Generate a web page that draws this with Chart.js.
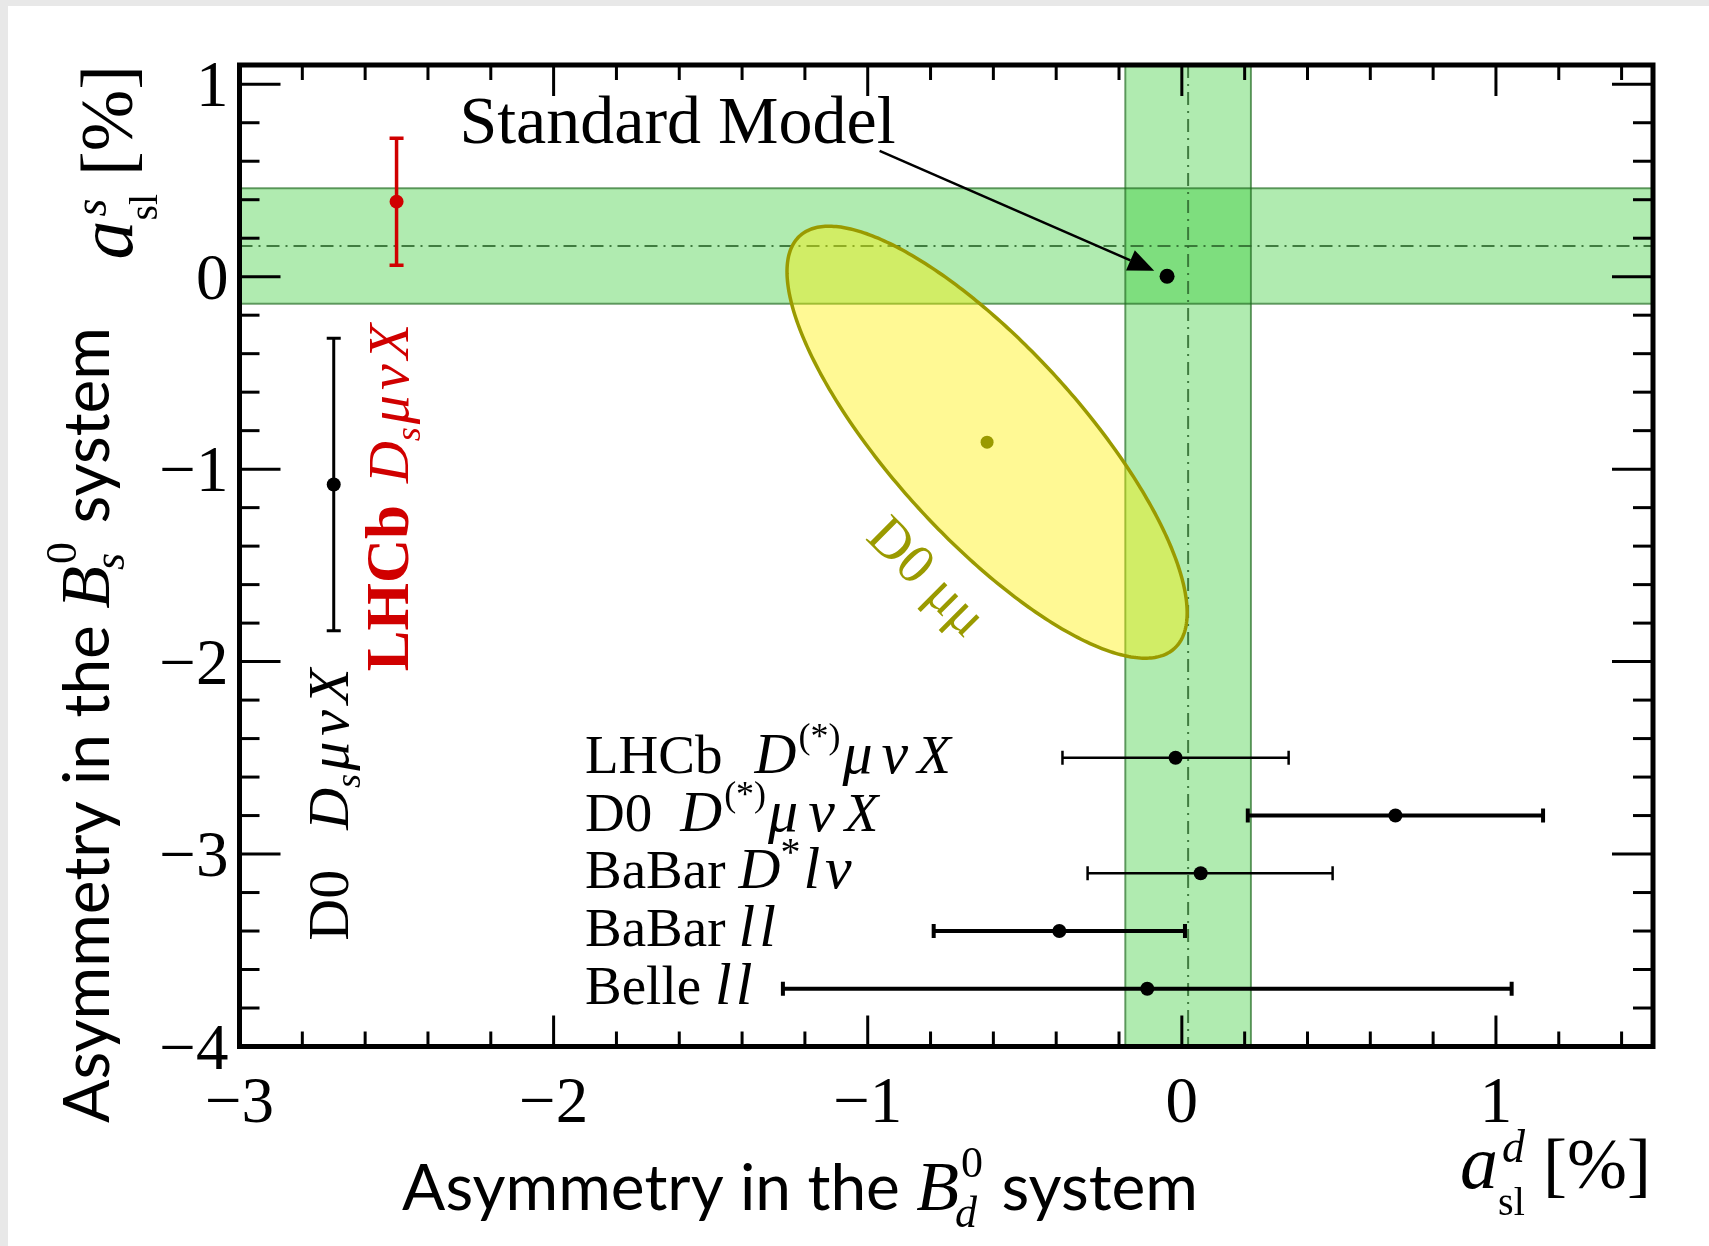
<!DOCTYPE html>
<html>
<head>
<meta charset="utf-8">
<title>Semileptonic asymmetries in the B0d and B0s systems</title>
<script src="https://cdn.jsdelivr.net/npm/chart.js@4.4.1/dist/chart.umd.min.js"></script>
<style>
  html, body { margin: 0; padding: 0; background: #fff; overflow: hidden; }
  canvas { display: block; }
</style>
</head>
<body>
<canvas id="asl" width="1709" height="1246"></canvas>
<script>
// ---------- values ----------
const xTickValues = [-3, -2, -1, 0, 1];
const yTickValues = [-4, -3, -2, -1, 0, 1];

// a_sl^d measurements, one row each (values in %)
const bdNames   = ['LHCb D(*)μνX', 'D0 D(*)μνX', 'BaBar D*lν', 'BaBar ll', 'Belle ll'];
const bdRowY    = [-2.5, -2.8, -3.1, -3.4, -3.7];
const bdValue   = [-0.02, 0.68, 0.06, -0.39, -0.11];
const bdErrDown = [0.36, 0.47, 0.36, 0.40, 1.16];
const bdErrUp   = [0.36, 0.47, 0.42, 0.40, 1.16];

// a_sl^s measurements, one column each (values in %)
const bsNames   = ['D0 DsμνX', 'LHCb DsμνX'];
const bsColumnX = [-2.7, -2.5];
const bsValue   = [-1.08, 0.39];
const bsErr     = [0.76, 0.33];

// averages: [central value, half width]
const avgBd = [0.02, 0.20];
const avgBs = [0.16, 0.30];

// D0 dimuon result: centre, uncertainties, correlation
const dimuonCentre = [-0.62, -0.86];
const dimuonSigma  = [0.42, 0.74];
const dimuonRho    = -0.79;
const dimuonDeltaChi2 = 2.30;   // 68% CL contour in two dimensions

// Standard Model expectation
const smPoint = [-0.047, 0.002];

// ---------- styles ----------
const SERIF = '"Liberation Serif", "Times New Roman", serif';
const SANS  = 'Lato, "Open Sans", sans-serif';
const rm   = s => `${s}px ${SERIF}`;
const it   = s => `italic ${s}px ${SERIF}`;
const bf   = s => `bold ${s}px ${SERIF}`;
const sans = s => `${s}px ${SANS}`;

const BAND_FILL    = 'rgba(40,200,40,0.37)';
const BAND_EDGE    = 'rgba(30,105,30,0.65)';
const CENTRE_LINE  = 'rgba(45,105,45,0.85)';
const ELLIPSE_FILL = 'rgba(255,240,0,0.42)';
const OLIVE        = '#9a9a00';
const RED          = '#d00000';

const bdBarWidth = [2.5, 4, 2.5, 4, 4];
const bsColor    = ['#000000', RED];
const bsBarWidth = [3, 3.5];

const LBL = 55, GR = 60;
const bdLabelRich = [
  [{t:'LHCb', f:rm(LBL), gap:32}, {t:'D', f:it(58), gap:2}, {t:'(*)', f:rm(36), dy:-25, gap:2},
   {t:'μ', f:it(GR), gap:9}, {t:'ν', f:it(GR), gap:9}, {t:'X', f:it(LBL)}],
  [{t:'D0', f:rm(LBL), gap:28}, {t:'D', f:it(58), gap:2}, {t:'(*)', f:rm(36), dy:-25, gap:2},
   {t:'μ', f:it(GR), gap:10}, {t:'ν', f:it(GR), gap:10}, {t:'X', f:it(LBL)}],
  [{t:'BaBar', f:rm(LBL), gap:13}, {t:'D', f:it(58)}, {t:'*', f:rm(40), dy:-23, gap:3},
   {t:'l', f:it(GR), gap:5}, {t:'ν', f:it(GR)}],
  [{t:'BaBar', f:rm(LBL), gap:13}, {t:'l', f:it(GR), gap:4}, {t:'l', f:it(GR)}],
  [{t:'Belle', f:rm(LBL), gap:14}, {t:'l', f:it(GR), gap:4}, {t:'l', f:it(GR)}]
];
const bdLabelX = -1.9;

const VL = 58;
const bsLabelRich = [
  [{t:'D0', f:rm(VL), gap:40}, {t:'D', f:it(VL)}, {t:'s', f:it(36), dy:12, gap:3},
   {t:'μ', f:it(VL), gap:6}, {t:'ν', f:it(VL), gap:6}, {t:'X', f:it(VL)}],
  [{t:'LHCb', f:bf(61), gap:22}, {t:'D', f:it(VL)}, {t:'s', f:it(36), dy:12, gap:3},
   {t:'μ', f:it(VL), gap:5}, {t:'ν', f:it(VL), gap:5}, {t:'X', f:it(VL)}]
];
const bsLabelAnchor = [[-2.655, -3.45], [-2.465, -2.05]];

// ---------- text helpers ----------
function segWidth(ctx, s) {
  if (s.stack) {
    return Math.max(...s.stack.map(p => { ctx.font = p.f; return ctx.measureText(p.t).width + (p.dx || 0); })) + (s.gap || 0);
  }
  ctx.font = s.f;
  return ctx.measureText(s.t).width + (s.gap || 0);
}
function drawRich(ctx, segs, x, y, opt = {}) {
  ctx.save();
  ctx.translate(x, y);
  ctx.rotate(opt.angle || 0);
  ctx.fillStyle = opt.color || '#000';
  ctx.textBaseline = 'alphabetic';
  ctx.textAlign = 'left';
  const total = segs.reduce((a, s) => a + segWidth(ctx, s), 0);
  const align = opt.align || 'left';
  let cx = align === 'left' ? 0 : align === 'center' ? -total / 2 : -total;
  for (const s of segs) {
    const w = segWidth(ctx, s);
    if (s.stack) {
      s.stack.forEach(p => { ctx.font = p.f; ctx.fillText(p.t, cx + (p.dx || 0), p.dy || 0); });
    } else {
      ctx.font = s.f;
      ctx.fillText(s.t, cx, s.dy || 0);
    }
    cx += w;
  }
  ctx.restore();
  return total;
}
function seg(ctx, x1, y1, x2, y2) {
  ctx.beginPath(); ctx.moveTo(x1, y1); ctx.lineTo(x2, y2); ctx.stroke();
}
const fmt = v => (v < 0 ? '\u2212' + Math.abs(v) : String(v));

// ---------- drawing ----------
const overlay = {
  id: 'overlay',
  beforeDraw(chart) {
    const { ctx, width, height } = chart;
    ctx.save();
    ctx.fillStyle = '#e8e8e8';
    ctx.fillRect(0, 0, width, height);
    ctx.fillStyle = '#ffffff';
    ctx.fillRect(8, 6, width - 8, height - 6);
    ctx.restore();
  },
  beforeDatasetsDraw(chart) {
    const { ctx, chartArea: ca } = chart;
    const xs = chart.scales.x, ys = chart.scales.y;
    ctx.save();
    ctx.beginPath();
    ctx.rect(ca.left, ca.top, ca.right - ca.left, ca.bottom - ca.top);
    ctx.clip();

    // average bands
    const hy1 = ys.getPixelForValue(avgBs[0] + avgBs[1]);
    const hy2 = ys.getPixelForValue(avgBs[0] - avgBs[1]);
    const vx1 = xs.getPixelForValue(avgBd[0] - avgBd[1]);
    const vx2 = xs.getPixelForValue(avgBd[0] + avgBd[1]);
    ctx.fillStyle = BAND_FILL;
    ctx.fillRect(ca.left, hy1, ca.right - ca.left, hy2 - hy1);
    ctx.fillRect(vx1, ca.top, vx2 - vx1, ca.bottom - ca.top);
    ctx.strokeStyle = BAND_EDGE;
    ctx.lineWidth = 2;
    seg(ctx, ca.left, hy1, ca.right, hy1);
    seg(ctx, ca.left, hy2, ca.right, hy2);
    seg(ctx, vx1, ca.top, vx1, ca.bottom);
    seg(ctx, vx2, ca.top, vx2, ca.bottom);

    // central values, dash-dotted
    ctx.setLineDash([13, 6, 2, 6]);
    ctx.strokeStyle = CENTRE_LINE;
    ctx.lineWidth = 2;
    const hy = ys.getPixelForValue(avgBs[0]);
    const vx = xs.getPixelForValue(avgBd[0]);
    seg(ctx, ca.left, hy, ca.right, hy);
    seg(ctx, vx, ca.top, vx, ca.bottom);
    ctx.setLineDash([]);

    // D0 dimuon contour
    const k = Math.sqrt(dimuonDeltaChi2);
    const sr = Math.sqrt(1 - dimuonRho * dimuonRho);
    ctx.beginPath();
    for (let i = 0; i <= 360; i++) {
      const t = i / 360 * 2 * Math.PI;
      const ex = dimuonCentre[0] + k * dimuonSigma[0] * Math.cos(t);
      const ey = dimuonCentre[1] + k * dimuonSigma[1] * (dimuonRho * Math.cos(t) + sr * Math.sin(t));
      const px = xs.getPixelForValue(ex), py = ys.getPixelForValue(ey);
      if (i === 0) ctx.moveTo(px, py); else ctx.lineTo(px, py);
    }
    ctx.closePath();
    ctx.fillStyle = ELLIPSE_FILL;
    ctx.fill();
    ctx.strokeStyle = OLIVE;
    ctx.lineWidth = 3.5;
    ctx.stroke();

    // horizontal error bars (a_sl^d)
    ctx.strokeStyle = '#000';
    bdValue.forEach((v, i) => {
      const y = ys.getPixelForValue(bdRowY[i]);
      const x1 = xs.getPixelForValue(v - bdErrDown[i]);
      const x2 = xs.getPixelForValue(v + bdErrUp[i]);
      ctx.lineWidth = bdBarWidth[i];
      seg(ctx, x1, y, x2, y);
      seg(ctx, x1, y - 7, x1, y + 7);
      seg(ctx, x2, y - 7, x2, y + 7);
    });

    // vertical error bars (a_sl^s)
    bsValue.forEach((v, i) => {
      const x = xs.getPixelForValue(bsColumnX[i]);
      const y1 = ys.getPixelForValue(v + bsErr[i]);
      const y2 = ys.getPixelForValue(v - bsErr[i]);
      ctx.strokeStyle = bsColor[i];
      ctx.lineWidth = bsBarWidth[i];
      seg(ctx, x, y1, x, y2);
      seg(ctx, x - 7, y1, x + 7, y1);
      seg(ctx, x - 7, y2, x + 7, y2);
    });
    ctx.restore();
  },
  afterDatasetsDraw(chart) {
    const { ctx, chartArea: ca } = chart;
    const xs = chart.scales.x, ys = chart.scales.y;
    ctx.save();

    // Standard Model label and arrow
    const smTextX = xs.getPixelForValue(-2.30), smTextY = ys.getPixelForValue(0.695);
    const smW = drawRich(ctx, [{t:'Standard Model', f:rm(68)}], smTextX, smTextY);
    const ax0 = smTextX + smW - 16, ay0 = smTextY + 8;
    const spx = xs.getPixelForValue(smPoint[0]), spy = ys.getPixelForValue(smPoint[1]);
    const dx = spx - ax0, dy = spy - ay0, len = Math.hypot(dx, dy);
    const ux = dx / len, uy = dy / len;
    const tipX = spx - 14 * ux, tipY = spy - 14 * uy;
    const baseX = tipX - 26 * ux, baseY = tipY - 26 * uy;
    ctx.strokeStyle = '#000';
    ctx.lineWidth = 2.5;
    seg(ctx, ax0, ay0, baseX, baseY);
    ctx.fillStyle = '#000';
    ctx.beginPath();
    ctx.moveTo(tipX, tipY);
    ctx.lineTo(baseX - 11 * uy, baseY + 11 * ux);
    ctx.lineTo(baseX + 11 * uy, baseY - 11 * ux);
    ctx.closePath();
    ctx.fill();

    // dimuon label
    drawRich(ctx, [{t:'D0 μμ', f:rm(56)}], xs.getPixelForValue(-0.85), ys.getPixelForValue(-1.55) + 14,
             { angle: 45 * Math.PI / 180, align: 'center', color: OLIVE });

    // a_sl^d row labels
    bdLabelRich.forEach((segs, i) => {
      drawRich(ctx, segs, xs.getPixelForValue(bdLabelX), ys.getPixelForValue(bdRowY[i]) + 15);
    });

    // a_sl^s column labels, rotated
    bsLabelRich.forEach((segs, i) => {
      drawRich(ctx, segs, xs.getPixelForValue(bsLabelAnchor[i][0]), ys.getPixelForValue(bsLabelAnchor[i][1]),
               { angle: -Math.PI / 2, color: bsColor[i] });
    });

    // frame
    ctx.strokeStyle = '#000';
    ctx.lineWidth = 5;
    ctx.strokeRect(ca.left, ca.top, ca.right - ca.left, ca.bottom - ca.top);

    // ticks on all four sides
    ctx.lineWidth = 3;
    const minorX = 0.2, minorY = 0.2;
    for (let i = 0; ; i++) {
      const v = xs.min + i * minorX;
      if (v > xs.max + 1e-9) break;
      const major = Math.abs(v - Math.round(v)) < 1e-6;
      const px = xs.getPixelForValue(v);
      const l = major ? 31 : 15;
      seg(ctx, px, ca.bottom, px, ca.bottom - l);
      seg(ctx, px, ca.top, px, ca.top + l);
    }
    for (let i = 0; ; i++) {
      const v = ys.min + i * minorY;
      if (v > ys.max + 1e-9) break;
      const major = Math.abs(v - Math.round(v)) < 1e-6;
      const py = ys.getPixelForValue(v);
      const l = major ? 41 : 20;
      seg(ctx, ca.left, py, ca.left + l, py);
      seg(ctx, ca.right, py, ca.right - l, py);
    }

    // tick labels
    ctx.fillStyle = '#000';
    ctx.font = rm(65);
    ctx.textBaseline = 'alphabetic';
    ctx.textAlign = 'center';
    xTickValues.forEach(v => ctx.fillText(fmt(v), xs.getPixelForValue(v), ca.bottom + 75));
    ctx.textAlign = 'right';
    yTickValues.forEach(v => ctx.fillText(fmt(v), ca.left - 11, ys.getPixelForValue(v) + 22));

    // axis titles
    drawRich(ctx, [
      {t:'Asymmetry in the ', f:sans(64)},
      {t:'B', f:it(70)},
      {stack:[{t:'0', f:rm(44), dy:-33, dx:2}, {t:'d', f:it(44), dy:17, dx:-4}], gap:2},
      {t:' system', f:sans(64)}
    ], 800, 1210, { align: 'center' });
    drawRich(ctx, [
      {t:'Asymmetry in the ', f:sans(64)},
      {t:'B', f:it(70)},
      {stack:[{t:'0', f:rm(44), dy:-33, dx:2}, {t:'s', f:it(44), dy:15, dx:-4}], gap:2},
      {t:' system', f:sans(64)}
    ], 109, 725, { align: 'center', angle: -Math.PI / 2 });

    // variable names with units
    drawRich(ctx, [
      {t:'a', f:it(76)},
      {stack:[{t:'d', f:it(46), dy:-26, dx:4}, {t:'sl', f:rm(40), dy:27}], gap:18},
      {t:'[%]', f:rm(72)}
    ], ca.right - 2, 1188, { align: 'right' });
    drawRich(ctx, [
      {t:'a', f:it(78)},
      {stack:[{t:'s', f:it(46), dy:-26, dx:4}, {t:'sl', f:rm(40), dy:25}], gap:18},
      {t:'[%]', f:rm(74)}
    ], 132, ca.top, { align: 'right', angle: -Math.PI / 2 });

    ctx.restore();
  }
};

new Chart(document.getElementById('asl'), {
  type: 'scatter',
  data: {
    datasets: [
      { label: 'a_sl^d measurements', data: bdValue.map((v, i) => ({ x: v, y: bdRowY[i] })),
        pointRadius: 7, pointBackgroundColor: '#000', pointBorderWidth: 0 },
      { label: 'a_sl^s measurements', data: bsValue.map((v, i) => ({ x: bsColumnX[i], y: v })),
        pointRadius: 7, pointBackgroundColor: bsColor, pointBorderWidth: 0 },
      { label: 'D0 μμ', data: [{ x: dimuonCentre[0], y: dimuonCentre[1] }],
        pointRadius: 6.5, pointBackgroundColor: OLIVE, pointBorderWidth: 0 },
      { label: 'Standard Model', data: [{ x: smPoint[0], y: smPoint[1] }],
        pointRadius: 7.5, pointBackgroundColor: '#000', pointBorderWidth: 0 }
    ]
  },
  options: {
    responsive: false,
    animation: false,
    devicePixelRatio: 1,
    events: [],
    layout: { padding: { left: 239.5, top: 65, right: 56, bottom: 199.5 } },
    scales: {
      x: { type: 'linear', min: -3, max: 1.5, display: false },
      y: { type: 'linear', min: -4, max: 1.1, display: false }
    },
    plugins: { legend: { display: false }, tooltip: { enabled: false } }
  },
  plugins: [overlay]
});
</script>
</body>
</html>
